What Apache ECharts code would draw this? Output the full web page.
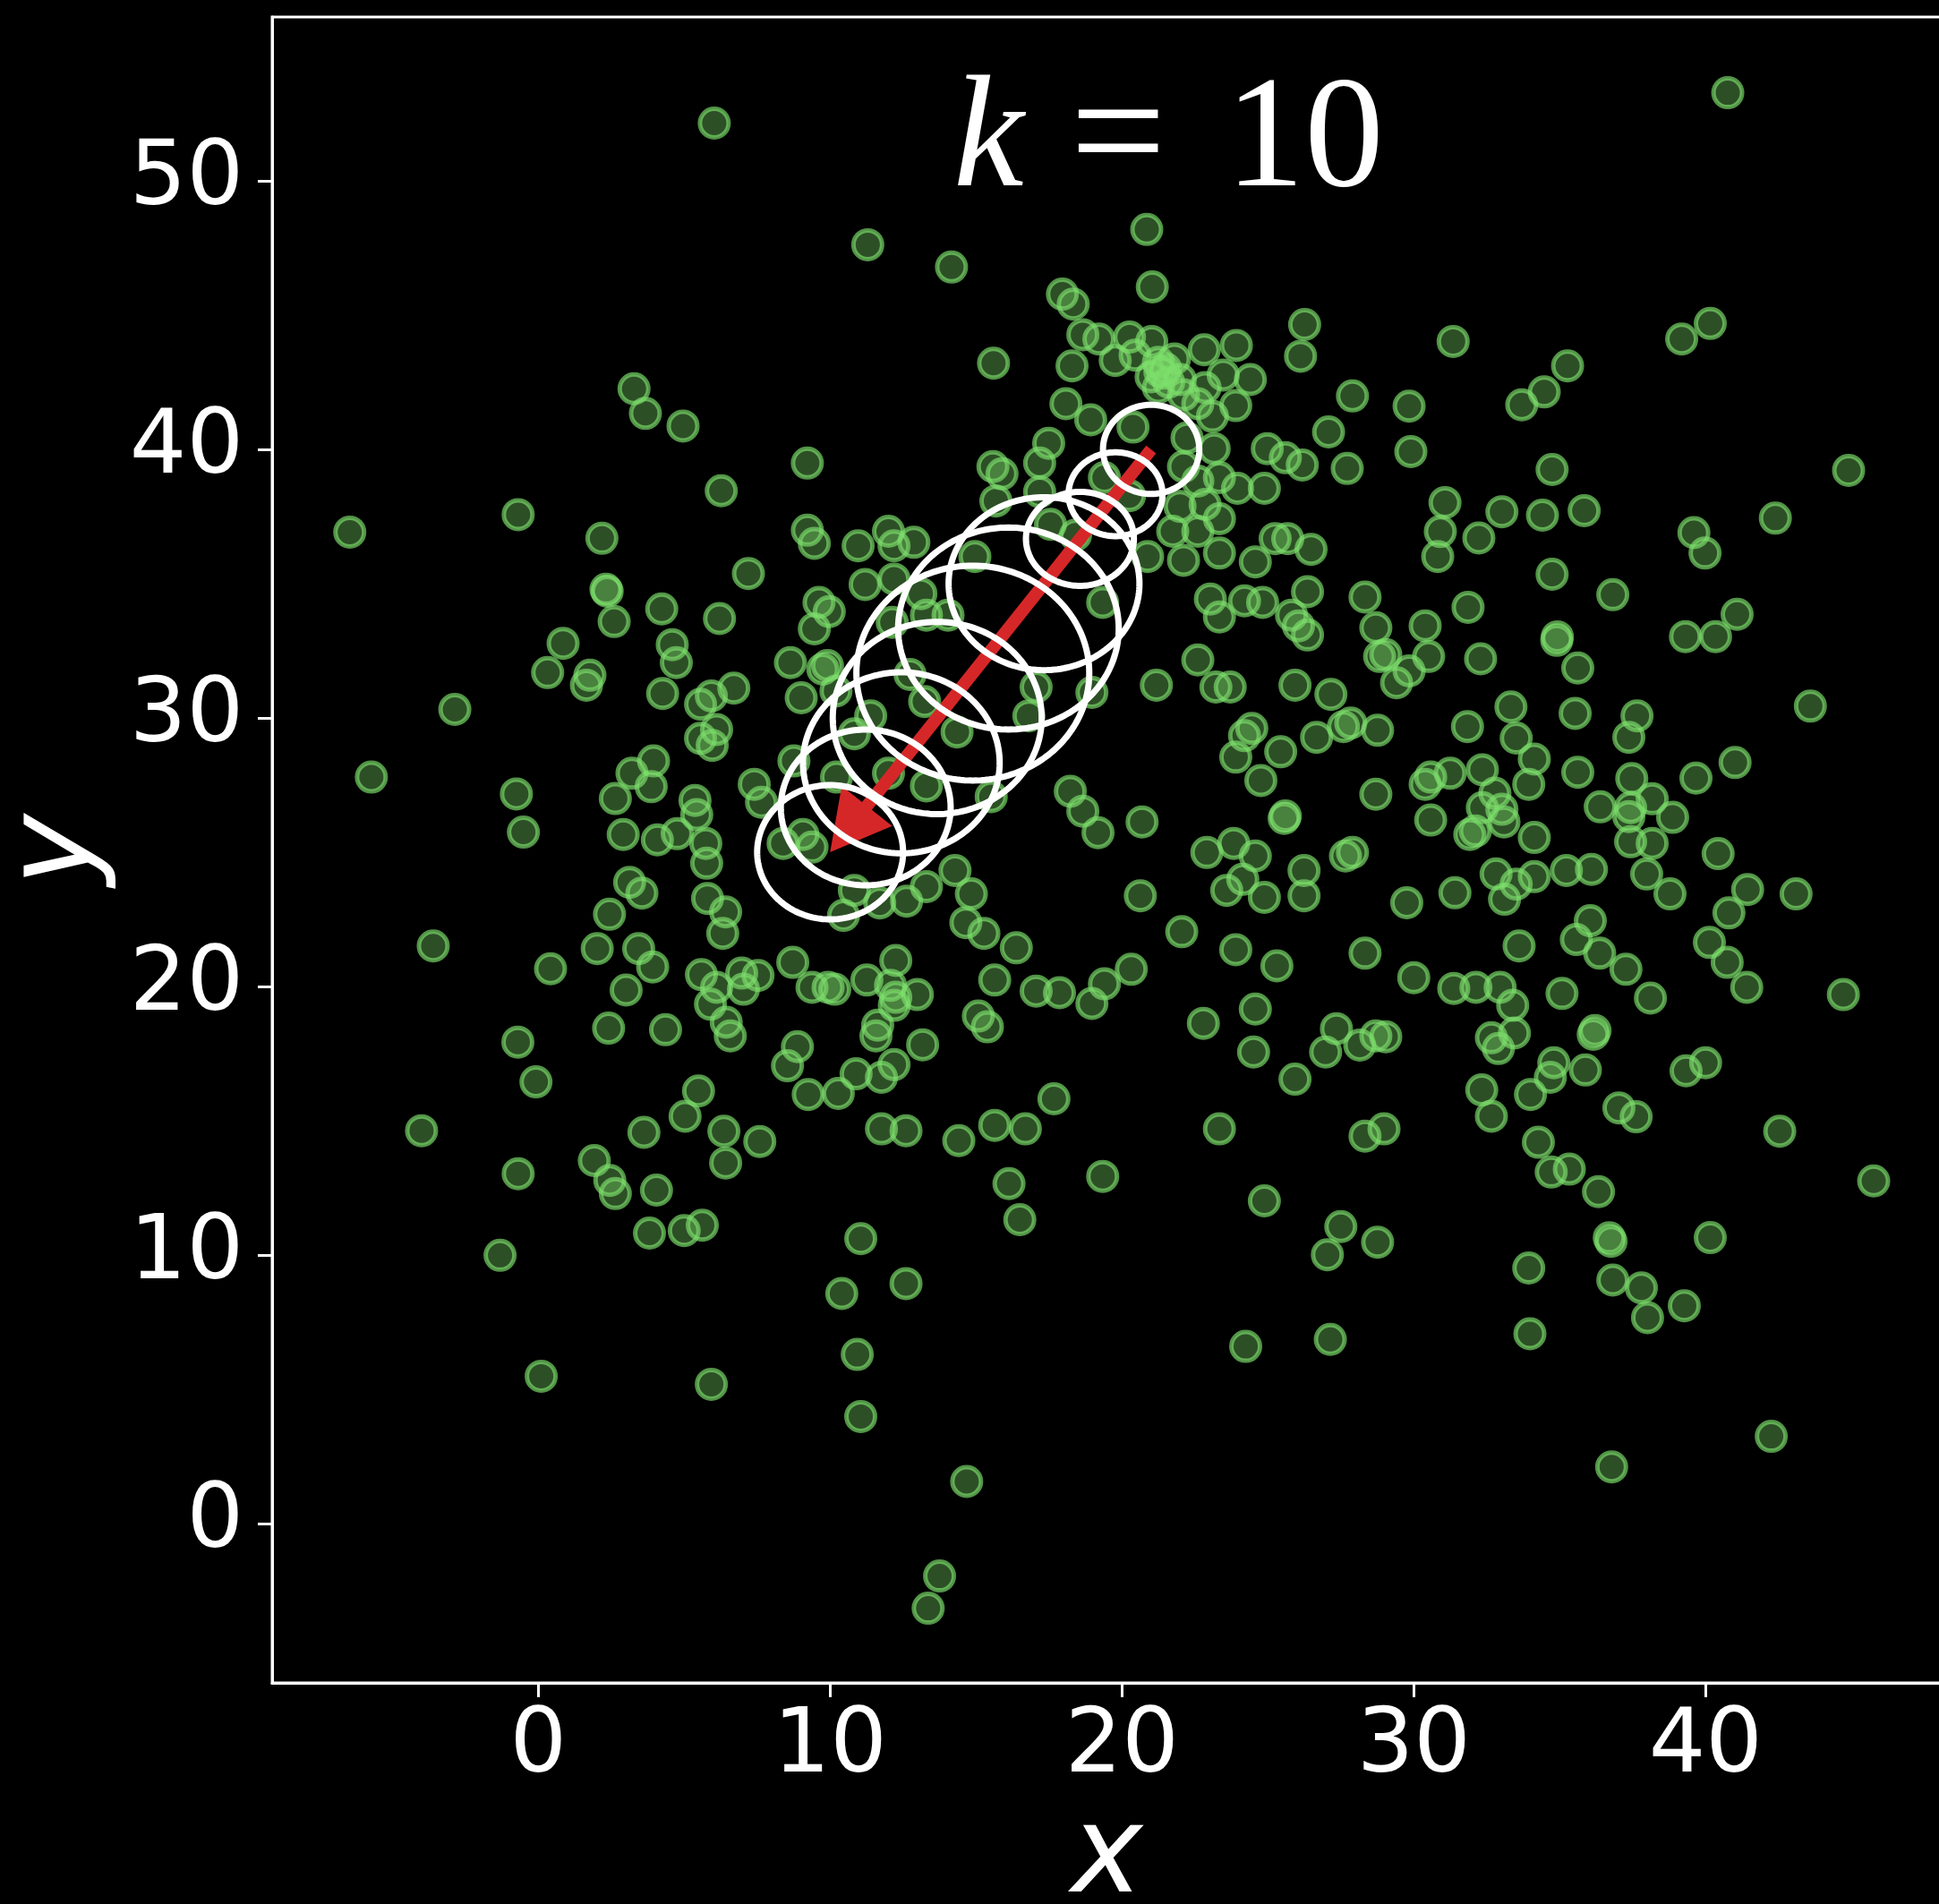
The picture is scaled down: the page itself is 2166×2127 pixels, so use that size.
<!DOCTYPE html>
<html>
<head>
<meta charset="utf-8">
<style>
  html, body { margin: 0; padding: 0; background: #000; }
  #chart { width: 2166px; height: 2127px; }
</style>
<script src="https://cdn.jsdelivr.net/npm/echarts@6/dist/echarts.min.js"></script>
</head>
<body>
<div id="chart"></div>
<script>
// Sample cloud: [x, y]
const samples = [
  [6.03,52.15],[3.28,42.26],[3.67,41.34],[4.96,40.87],[9.22,39.49],[6.27,38.46],[-0.69,37.57],[-6.46,36.92],[2.18,36.69],[9.22,36.99],[9.46,36.5],[7.2,35.38],
  [11.29,47.62],[14.16,46.79],[20.85,48.19],[21.04,46.05],[17.96,45.78],[18.33,45.41],[26.26,44.65],[26.12,43.47],[18.66,44.27],[19.21,44.11],[20.26,44.18],[21.02,44.02],
  [15.6,43.21],[18.29,43.11],[19.77,43.31],[20.45,43.51],[21.25,43.24],[21.8,43.37],[22.82,43.71],[23.92,43.87],[21.0,42.7],[21.43,42.84],[21.25,42.3],[23.47,42.77],
  [24.4,42.6],[22.85,42.3],[27.9,41.99],[22.11,42.03],[22.6,41.7],[23.9,41.63],[18.08,41.7],[18.93,41.1],[20.38,40.83],[23.1,41.23],[22.23,40.43],[27.08,40.65],
  [23.16,40.03],[24.98,40.03],[25.6,39.69],[26.18,39.42],[27.72,39.29],[17.49,40.23],[17.18,39.49],[15.58,39.36],[15.89,39.09],[22.11,39.36],[22.6,38.82],[23.34,38.95],
  [23.96,38.55],[24.88,38.55],[19.4,38.95],[17.18,38.42],[15.68,38.08],[21.99,37.88],[22.85,37.95],[23.34,37.42],[20.26,38.28],[25.25,36.68],[25.68,36.68],[26.48,36.28],
  [21.74,36.95],[22.6,36.95],[23.34,36.14],[24.57,35.81],[12.0,36.95],[10.96,36.41],[12.19,36.41],[12.87,36.54],[14.96,36.01],[20.88,36.01],[17.55,37.21],[18.41,36.81],
  [22.11,35.87],[21.3,42.9],[21.6,42.5],[21.5,43.0],[22.0,42.6],
  [40.76,53.28],[31.35,44.02],[39.18,44.11],[40.16,44.69],[35.27,43.11],[34.47,42.14],[33.7,41.66],[29.84,41.61],[29.9,39.92],[34.74,39.25],[44.9,39.22],[31.07,38.02],
  [33.02,37.68],[34.41,37.55],[35.84,37.72],[42.39,37.44],[30.91,36.94],[32.23,36.7],[30.82,36.01],[39.6,36.9],[39.98,36.14],[34.74,35.35],
  [2.32,34.79],[2.36,34.72],[2.6,33.59],[4.23,34.06],[6.21,33.7],[9.62,34.3],[9.46,33.32],[0.85,32.78],[0.32,31.69],[1.77,31.59],[1.65,31.22],[4.59,32.73],
  [4.73,32.06],[4.26,30.91],[5.56,30.51],[5.93,30.82],[6.7,31.11],[8.64,32.06],[9.75,31.82],[9.01,30.75],[-2.86,30.32],[5.56,29.24],[5.96,28.98],[6.11,29.57],
  [8.76,28.4],[-5.72,27.8],[-0.75,27.17],[-0.51,25.75],[3.21,27.94],[3.95,28.4],[3.87,27.44],[2.64,27.0],[5.37,26.93],[5.43,26.4],[7.4,27.53],[7.65,26.86],
  [2.91,25.66],[4.08,25.46],[4.76,25.69],[5.74,25.33],[5.77,24.59],[8.39,25.33],[9.07,25.66],[9.38,25.19],[3.13,23.88],[3.55,23.48],[2.44,22.69],[5.8,23.28],
  [6.42,22.78],[6.32,21.98],[2.02,21.41],[3.44,21.41],[3.92,20.73],[-3.6,21.51],[0.42,20.66],[3.01,19.87],[5.59,20.44],[6.11,19.97],[6.97,20.5],[7.53,20.41],
  [7.03,19.9],[5.9,19.34],[6.44,18.67],[6.58,18.16],[8.72,20.9],[9.38,19.97],[9.93,19.97],[-0.7,17.93],[2.41,18.45],[4.36,18.39],[8.88,17.76],[8.54,17.05],
  [-0.08,16.45],[5.49,16.11],[9.25,15.98],[5.03,15.17],
  [11.2,34.97],[12.19,35.17],[13.11,34.63],[9.97,33.96],[12.13,33.56],[13.3,33.83],[14.04,33.83],[19.34,34.3],[23.03,34.43],[23.34,33.76],[24.2,34.36],[24.82,34.3],
  [26.36,34.7],[25.81,33.83],[26.05,33.43],[26.36,33.09],[28.33,34.5],[28.7,33.36],[28.83,32.29],[9.91,31.95],[12.74,31.62],[22.6,32.16],[23.22,31.15],[23.71,31.15],
  [21.18,31.22],[25.93,31.22],[27.16,30.88],[17.06,31.15],[18.97,30.95],[11.39,30.08],[13.24,30.61],[16.81,30.08],[24.45,29.61],[24.2,29.34],[23.9,28.54],[25.44,28.74],
  [26.67,29.28],[27.59,29.68],[27.84,29.81],[28.76,29.54],[24.76,27.67],[10.83,29.41],[14.35,29.48],[12.0,27.94],[13.3,27.47],[15.52,27.07],[10.22,27.8],[18.23,27.27],
  [18.66,26.53],[19.18,25.73],[20.69,26.13],[25.56,26.26],[25.6,26.35],[28.7,27.16],[22.91,24.99],[23.83,25.33],[24.57,24.86],[24.14,23.99],[23.59,23.58],[24.88,23.32],
  [26.24,24.32],[26.24,23.38],[27.66,24.86],[27.9,24.99],[20.63,23.38],[22.05,22.04],[14.28,24.32],[14.84,23.45],[14.65,22.38],[15.27,21.98],[16.38,21.44],[13.3,23.72],
  [12.62,23.18],[11.7,23.11],[10.46,22.65],[10.83,23.58],[12.25,20.97],[11.26,20.24],[10.16,19.9],[12.07,20.04],[12.25,19.6],[12.2,19.3],[12.99,19.7],[11.63,18.56],
  [11.57,18.16],[13.17,17.83],[15.64,20.24],[17.06,19.83],[17.86,19.77],[18.97,19.37],[19.4,20.1],[20.32,20.64],[15.08,18.9],[15.39,18.5],[12.19,17.09],[10.89,16.75],
  [11.76,16.62],[10.28,16.02],[17.67,15.82],[23.9,21.37],[25.31,20.77],[28.33,21.24],[24.57,19.16],[22.79,18.63],[24.51,17.56],[27.35,18.43],[28.15,17.82],[26.98,17.56],
  [28.7,18.16],[25.93,16.55],[10.2,31.0],
  [36.82,34.59],[31.86,34.12],[30.39,33.43],[41.08,33.86],[39.31,33.03],[40.34,33.03],[34.9,32.89],[34.92,33.02],[32.29,32.2],[30.51,32.29],[29.04,32.36],[29.84,31.75],
  [29.41,31.31],[35.62,31.86],[43.59,30.44],[33.33,30.41],[35.53,30.17],[31.84,29.68],[33.51,29.25],[37.65,30.08],[37.37,29.28],[41.01,28.34],[39.67,27.76],[35.62,27.98],
  [34.13,28.47],[33.94,27.53],[32.35,28.07],[31.25,27.94],[30.58,27.8],[30.39,27.53],[32.78,27.2],[32.35,26.66],[33.02,26.6],[33.09,26.13],[32.11,25.79],[31.92,25.66],
  [30.58,26.2],[34.13,25.55],[36.39,26.69],[37.47,27.74],[37.43,26.66],[37.37,26.33],[38.17,26.99],[38.87,26.3],[38.17,25.33],[37.43,25.39],[40.43,24.95],[41.44,23.61],
  [40.8,22.74],[43.1,23.45],[37.98,24.19],[38.78,23.45],[36.09,24.36],[35.23,24.32],[32.82,24.19],[33.51,23.81],[34.13,24.09],[33.11,23.25],[31.41,23.49],[29.76,23.12],
  [36.05,22.45],[35.57,21.75],[36.37,21.24],[37.27,20.64],[33.61,21.51],[40.13,21.64],[40.74,20.9],[41.41,19.97],[44.72,19.7],[38.11,19.57],[35.08,19.74],[30.0,20.33],
  [31.37,19.93],[32.13,19.97],[32.96,19.97],[33.39,19.3],[29.04,18.13],[33.45,18.27],[32.66,18.09],[32.9,17.69],[36.21,18.36],[36.15,18.22],[34.8,17.16],[34.68,16.62],
  [35.88,16.89],[39.33,16.86],[40.0,17.16],[32.33,16.15],[34.0,15.98],[32.66,15.17],[37.03,15.48],[37.62,15.15],
  [-4.0,14.63],[3.62,14.57],[6.36,14.61],[7.59,14.23],[-0.69,13.03],[1.92,13.52],[2.45,12.78],[2.64,12.29],[4.05,12.42],[6.42,13.43],[3.81,10.82],[5.0,10.91],
  [5.62,11.11],[-1.31,9.99],[0.1,5.49],[5.93,5.19],
  [11.76,14.7],[12.6,14.63],[14.41,14.26],[15.64,14.83],[16.69,14.7],[23.34,14.7],[28.33,14.43],[19.34,12.93],[16.13,12.66],[16.5,11.32],[24.88,12.02],[27.5,11.06],
  [27.04,10.01],[28.76,10.48],[11.05,10.61],[12.6,8.94],[10.4,8.57],[10.93,6.3],[11.05,3.99],[24.24,6.6],[27.14,6.86],[14.68,1.57],[13.75,-1.95],[13.36,-3.15],
  [28.98,14.7],[42.54,14.61],[34.27,14.2],[34.71,13.09],[35.33,13.2],[36.33,12.36],[45.76,12.76],[36.7,10.64],[36.76,10.51],[40.16,10.65],[33.94,9.52],[36.82,9.07],
  [37.8,8.78],[39.27,8.11],[38.01,7.67],[33.98,7.07],[42.25,3.25],[36.78,2.11]
];

// Ellipses along the path: centre and semi-axes in data units
const ellipseCx = [21.0, 19.78, 18.56, 17.33, 16.11, 14.89, 13.67, 12.44, 11.22, 10.0];
const ellipseCy = [40.0, 38.33, 36.67, 35.0, 33.33, 31.67, 30.0, 28.33, 26.67, 25.0];
const ellipseRx = [1.65, 1.61, 1.85, 3.27, 3.78, 3.99, 3.58, 3.37, 2.91, 2.5];
const ellipseRy = [1.66, 1.56, 1.75, 3.22, 3.76, 4.0, 3.58, 3.37, 2.9, 2.5];

// Arrow from start to tip (data units)
const arrowStart = [21, 40];
const arrowEnd = [10, 25];

// Axis ticks
const xTicks = [0, 10, 20, 30, 40];
const yTicks = [0, 10, 20, 30, 40, 50];

const ellipseData = ellipseCx.map((cx, i) => [cx, ellipseCy[i], ellipseRx[i], ellipseRy[i]]);

function renderEllipse(params, api) {
  const cx = api.value(0), cy = api.value(1);
  const rx = api.value(2), ry = api.value(3);
  const pts = [];
  const n = 180;
  for (let k = 0; k < n; k++) {
    const t = 2 * Math.PI * k / n;
    pts.push(api.coord([cx + rx * Math.cos(t), cy + ry * Math.sin(t)]));
  }
  return {
    type: 'polygon',
    shape: { points: pts },
    style: { fill: 'none', stroke: '#ffffff', lineWidth: 7 }
  };
}

function renderArrow(params, api) {
  const p0 = api.coord([api.value(0), api.value(1)]);
  const p1 = api.coord([api.value(2), api.value(3)]);
  const dx = p1[0] - p0[0], dy = p1[1] - p0[1];
  const len = Math.sqrt(dx * dx + dy * dy);
  const ux = dx / len, uy = dy / len;
  const nx = -uy, ny = ux;
  const shaft = 14, headW = 72, headL = 66;
  const s = [p1[0] - ux * headL, p1[1] - uy * headL];
  const pts = [
    [p0[0] + nx * shaft / 2, p0[1] + ny * shaft / 2],
    [s[0] + nx * shaft / 2, s[1] + ny * shaft / 2],
    [s[0] + nx * headW / 2, s[1] + ny * headW / 2],
    p1,
    [s[0] - nx * headW / 2, s[1] - ny * headW / 2],
    [s[0] - nx * shaft / 2, s[1] - ny * shaft / 2],
    [p0[0] - nx * shaft / 2, p0[1] - ny * shaft / 2]
  ];
  return { type: 'polygon', shape: { points: pts }, style: { fill: '#d62728', stroke: 'none' } };
}

const chart = echarts.init(document.getElementById('chart'), null, { renderer: 'canvas' });

const axisText = { color: '#ffffff', fontFamily: 'DejaVu Sans', fontSize: 100 };
const serif = { fontFamily: 'Liberation Serif', fontWeight: 'normal', fontSize: 177, lineHeight: 177, color: '#fff' };

chart.setOption({
  backgroundColor: '#000000',
  animation: false,
  title: {
    text: '{k|k}{eq|=}{n|10}',
    left: 1065,
    top: 72,
    padding: 0,
    textStyle: {
      fontWeight: 'normal',
      rich: {
        k: Object.assign({ fontStyle: 'italic' }, serif),
        eq: Object.assign({ padding: [0, 66, 0, 52] }, serif, { fontSize: 190 }),
        n: Object.assign({}, serif)
      }
    }
  },
  grid: {
    left: 304, top: 19, width: 1865, height: 1861,
    outerBoundsMode: 'none',
    containLabel: false,
    show: true, borderColor: '#ffffff', borderWidth: 3, backgroundColor: 'transparent'
  },
  xAxis: {
    type: 'value', min: -9.12, max: 48.09,
    splitLine: { show: false },
    axisLine: { show: true, onZero: false, lineStyle: { color: '#ffffff', width: 3 } },
    axisTick: { show: true, length: 16, customValues: xTicks, lineStyle: { color: '#ffffff', width: 3 } },
    axisLabel: Object.assign({ customValues: xTicks, margin: 23 }, axisText),
    name: 'x', nameLocation: 'middle', nameGap: 130,
    nameTextStyle: { color: '#ffffff', fontFamily: 'DejaVu Sans', fontStyle: 'italic', fontSize: 135 }
  },
  yAxis: {
    type: 'value', min: -5.93, max: 56.1,
    splitLine: { show: false },
    axisLine: { show: true, onZero: false, lineStyle: { color: '#ffffff', width: 3 } },
    axisTick: { show: true, length: 16, customValues: yTicks, lineStyle: { color: '#ffffff', width: 3 } },
    axisLabel: Object.assign({ customValues: yTicks, margin: 32 }, axisText),
    name: 'y', nameLocation: 'middle', nameGap: 156,
    nameTextStyle: { color: '#ffffff', fontFamily: 'DejaVu Sans', fontStyle: 'italic', fontSize: 135 }
  },
  series: [
    {
      type: 'scatter',
      data: samples,
      symbol: 'circle',
      symbolSize: 32,
      itemStyle: {
        color: 'rgba(125,220,105,0.45)',
        borderColor: 'rgba(125,225,108,0.82)',
        borderWidth: 5
      },
      emphasis: { disabled: true },
      z: 2
    },
    {
      type: 'custom',
      data: [[arrowStart[0], arrowStart[1], arrowEnd[0], arrowEnd[1]]],
      encode: { x: [0, 2], y: [1, 3] },
      renderItem: renderArrow,
      silent: true,
      z: 3
    },
    {
      type: 'custom',
      data: ellipseData,
      encode: { x: 0, y: 1 },
      renderItem: renderEllipse,
      silent: true,
      z: 4
    }
  ]
});
</script>
</body>
</html>
